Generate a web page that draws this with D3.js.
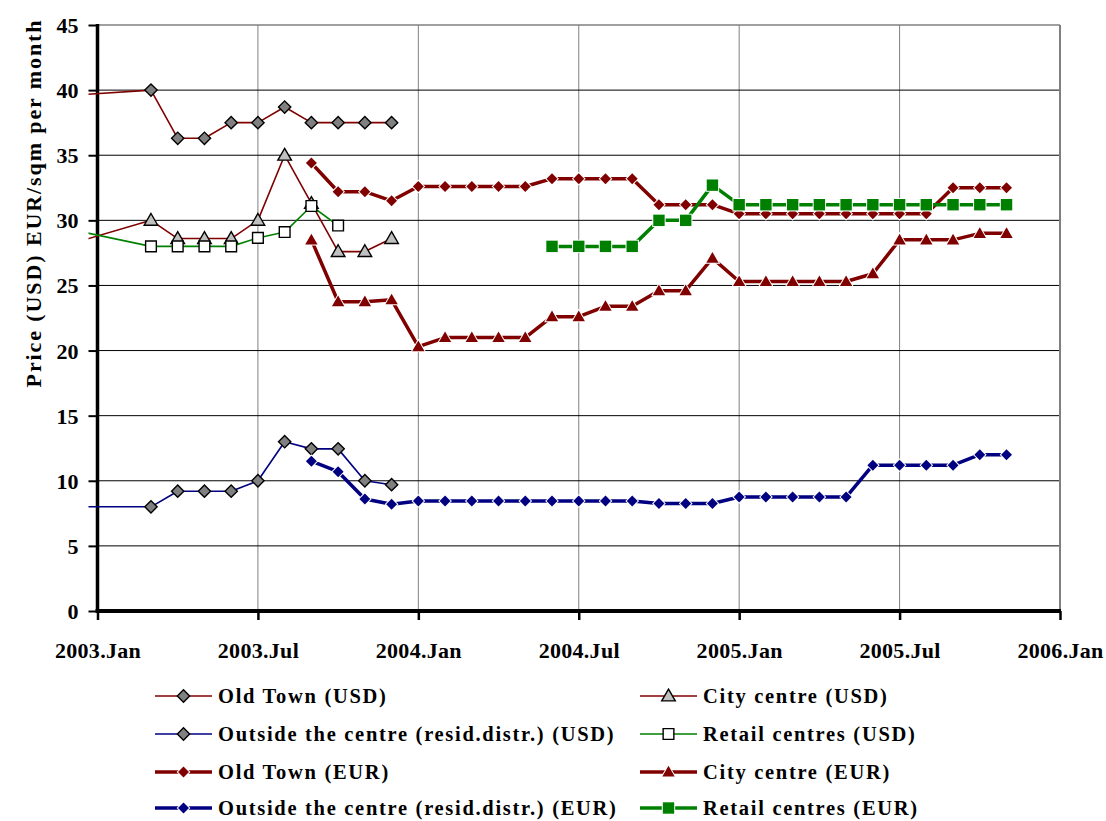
<!DOCTYPE html>
<html>
<head>
<meta charset="utf-8">
<script src="https://cdn.jsdelivr.net/npm/d3@7"></script>
<style>
  html, body { margin: 0; padding: 0; background: #fff; }
  svg { display: block; }
  text { font-family: "Liberation Serif", "Times New Roman", serif; font-weight: bold; fill: #000; }
</style>
</head>
<body>
<svg id="chart" width="1106" height="821"></svg>
<script>
// ---- Data (month index: 0 = 2003.Jan; -1 = earlier reading, only its line is seen) ----
const tickLabels = ["2003.Jan", "2003.Jul", "2004.Jan", "2004.Jul", "2005.Jan", "2005.Jul", "2006.Jan"];
const yTicks = [0, 5, 10, 15, 20, 25, 30, 35, 40, 45];

const usdMonths = [-1, 2, 3, 4, 5, 6, 7, 8, 9, 10, 11];
const oldTownUSD   = [39.6, 40.0, 36.3, 36.3, 37.5, 37.5, 38.7, 37.5, 37.5, 37.5, 37.5];
const cityCentreUSD = [28.2, 30.0, 28.6, 28.6, 28.6, 30.0, 35.0, 31.3, 27.6, 27.6, 28.6];
const outsideUSD   = [8.0, 8.0, 9.2, 9.2, 9.2, 10.0, 13.0, 12.45, 12.45, 10.0, 9.7];
const retailMonthsUSD = [-1, 2, 3, 4, 5, 6, 7, 8, 9];
const retailUSD    = [29.3, 28.0, 28.0, 28.0, 28.0, 28.65, 29.1, 31.1, 29.6];

const eurMonths = d3.range(8, 35); // 2003.Sep .. 2005.Nov
const oldTownEUR = [34.4, 32.2, 32.2, 31.5,
  32.6, 32.6, 32.6, 32.6, 32.6,
  33.2, 33.2, 33.2, 33.2,
  31.2, 31.2, 31.2,
  30.5, 30.5, 30.5, 30.5, 30.5, 30.5, 30.5, 30.5,
  32.5, 32.5, 32.5];
const cityCentreEUR = [28.5, 23.75, 23.75, 23.9,
  20.3, 21.0, 21.0, 21.0, 21.0,
  22.6, 22.6, 23.4, 23.4, 24.6, 24.6, 27.1,
  25.3, 25.3, 25.3, 25.3, 25.3, 25.9,
  28.5, 28.5, 28.5, 29.0, 29.0];
const outsideEUR = [11.5, 10.7, 8.6, 8.2,
  8.45, 8.45, 8.45, 8.45, 8.45, 8.45, 8.45, 8.45, 8.45,
  8.25, 8.25, 8.25,
  8.75, 8.75, 8.75, 8.75, 8.75,
  11.2, 11.2, 11.2, 11.2,
  12.0, 12.0];
const retailMonthsEUR = d3.range(17, 35); // 2004.Jun .. 2005.Nov
const retailEUR = [28.0, 28.0, 28.0, 28.0, 30.0, 30.0, 32.7,
  31.2, 31.2, 31.2, 31.2, 31.2, 31.2, 31.2, 31.2, 31.2, 31.2, 31.2];

const series = [
  { name: "Old Town (USD)", months: usdMonths, values: oldTownUSD, color: "#800000", eur: false, marker: "diamond", fill: "#808080" },
  { name: "City centre (USD)", months: usdMonths, values: cityCentreUSD, color: "#800000", eur: false, marker: "triangle", fill: "#c0c0c0" },
  { name: "Outside the centre (resid.distr.) (USD)", months: usdMonths, values: outsideUSD, color: "#000080", eur: false, marker: "diamond", fill: "#808080" },
  { name: "Retail centres (USD)", months: retailMonthsUSD, values: retailUSD, color: "#008000", eur: false, marker: "square", fill: "#ffffff" },
  { name: "Old Town (EUR)", months: eurMonths, values: oldTownEUR, color: "#800000", eur: true, marker: "diamond", fill: "#800000" },
  { name: "City centre (EUR)", months: eurMonths, values: cityCentreEUR, color: "#800000", eur: true, marker: "triangle", fill: "#800000" },
  { name: "Outside the centre (resid.distr.) (EUR)", months: eurMonths, values: outsideEUR, color: "#000080", eur: true, marker: "diamond", fill: "#000080" },
  { name: "Retail centres (EUR)", months: retailMonthsEUR, values: retailEUR, color: "#008000", eur: true, marker: "square", fill: "#008000" }
];

// ---- Layout ----
const svg = d3.select("#chart");
const L = 97.5, R = 1060, T = 25, B = 611;
const x = d3.scaleLinear().domain([0, 36]).range([L, R]);
const y = d3.scaleLinear().domain([0, 45]).range([B, T]);

// Vertical gridlines (gray)
svg.append("g").selectAll("line").data(d3.range(6, 37, 6)).join("line")
  .attr("x1", d => x(d)).attr("x2", d => x(d)).attr("y1", T).attr("y2", B)
  .attr("stroke", "#808080").attr("stroke-width", 1);
// Horizontal gridlines (black)
svg.append("g").selectAll("line").data(yTicks.filter(v => v > 0 && v < 45)).join("line")
  .attr("x1", L).attr("x2", R).attr("y1", d => y(d)).attr("y2", d => y(d))
  .attr("stroke", "#000").attr("stroke-width", 1);
// Plot border top/right (gray)
svg.append("line").attr("x1", L).attr("x2", R).attr("y1", y(45)).attr("y2", y(45))
  .attr("stroke", "#808080").attr("stroke-width", 1.5);
svg.append("line").attr("x1", R).attr("x2", R).attr("y1", T).attr("y2", B)
  .attr("stroke", "#808080").attr("stroke-width", 2);

// Y axis
const yAxis = d3.axisLeft(y).tickValues(yTicks).tickSize(9).tickPadding(10);
const gy = svg.append("g").attr("transform", `translate(${L},0)`).call(yAxis);
gy.select(".domain").attr("stroke", "#000").attr("stroke-width", 3.5).attr("d", `M0,${T - 1}V${B}`);
gy.selectAll(".tick line").attr("stroke", "#000").attr("stroke-width", 2);
gy.selectAll(".tick text").style("font-size", "22px").style("font-family", "Liberation Serif").style("font-weight", "bold").attr("fill", "#000").attr("dy", "0.34em");

// X axis
const xAxis = d3.axisBottom(x).tickValues(d3.range(0, 37, 6)).tickFormat((d, i) => tickLabels[i]).tickSize(9).tickPadding(22);
const gx = svg.append("g").attr("transform", `translate(0,${B})`).call(xAxis);
gx.select(".domain").attr("stroke", "#000").attr("stroke-width", 4).attr("d", `M${L - 2},0H${R + 1}`);
gx.selectAll(".tick line").attr("stroke", "#000").attr("stroke-width", 2.5);
gx.selectAll(".tick text").style("font-size", "22px").style("font-family", "Liberation Serif").style("font-weight", "bold").style("letter-spacing", "0.3px").attr("fill", "#000");

// Y title
svg.append("text")
  .attr("transform", `translate(41,203) rotate(-90)`)
  .attr("text-anchor", "middle")
  .style("font-size", "22px").style("letter-spacing", "1.9px")
  .text("Price (USD) EUR/sqm per month");

// ---- Series ----
function markerPath(type, eur) {
  if (type === "diamond") return d3.symbol(d3.symbolSquare, eur ? 60 : 76)();
  if (type === "triangle") return d3.symbol(d3.symbolTriangle, eur ? 66 : 80)();
  return d3.symbol(d3.symbolSquare, eur ? 130 : 115)();
}
function markerTransform(type, px, py) {
  if (type === "diamond") return `translate(${px},${py}) rotate(45)`;
  if (type === "triangle") return `translate(${px},${py + 1})`;
  return `translate(${px},${py})`;
}

svg.append("defs").append("clipPath").attr("id", "clip")
  .append("rect").attr("x", L - 9).attr("y", T - 10).attr("width", R - L + 9).attr("height", B - T + 10);

const line = d3.line().x(d => x(d[0])).y(d => y(d[1]));
const plot = svg.append("g");

series.forEach(s => {
  const pts = s.months.map((m, i) => [m, s.values[i]]);
  plot.append("path").datum(pts)
    .attr("clip-path", "url(#clip)")
    .attr("fill", "none").attr("stroke", s.color)
    .attr("stroke-width", s.eur ? 3.5 : 1.6)
    .attr("stroke-linejoin", "round")
    .attr("d", line);
  plot.append("g").selectAll("path").data(pts.filter(p => p[0] >= 0)).join("path")
    .attr("d", markerPath(s.marker, s.eur))
    .attr("transform", p => markerTransform(s.marker, x(p[0]), y(p[1])))
    .attr("fill", s.fill)
    .attr("stroke", s.eur ? "#fff" : "#000")
    .attr("stroke-width", s.eur ? 2 : 1.4)
    .attr("paint-order", s.eur ? "stroke" : "normal");
});

// ---- Legend ----
const legendRows = [696, 734, 772, 808];
const legendCols = [{ lx: 155, tx: 218 }, { lx: 640, tx: 703 }];
const legendOrder = [0, 1, 2, 3, 4, 5, 6, 7];
const lg = svg.append("g");
legendOrder.forEach((si, k) => {
  const s = series[si];
  const row = Math.floor(k / 2), col = k % 2;
  const cy = legendRows[row], c = legendCols[col];
  const g = lg.append("g");
  g.append("line").attr("x1", c.lx).attr("x2", c.lx + 57).attr("y1", cy).attr("y2", cy)
    .attr("stroke", s.color).attr("stroke-width", s.eur ? 3.5 : 1.6);
  g.append("path").attr("d", markerPath(s.marker, s.eur))
    .attr("transform", markerTransform(s.marker, c.lx + 28.5, cy))
    .attr("fill", s.fill)
    .attr("stroke", s.eur ? "#fff" : "#000")
    .attr("stroke-width", s.eur ? 2 : 1.4)
    .attr("paint-order", s.eur ? "stroke" : "normal");
  g.append("text").attr("x", c.tx).attr("y", cy).attr("dy", "0.32em")
    .style("font-size", "20.5px").style("letter-spacing", "1.7px")
    .text(s.name);
});
</script>
</body>
</html>
